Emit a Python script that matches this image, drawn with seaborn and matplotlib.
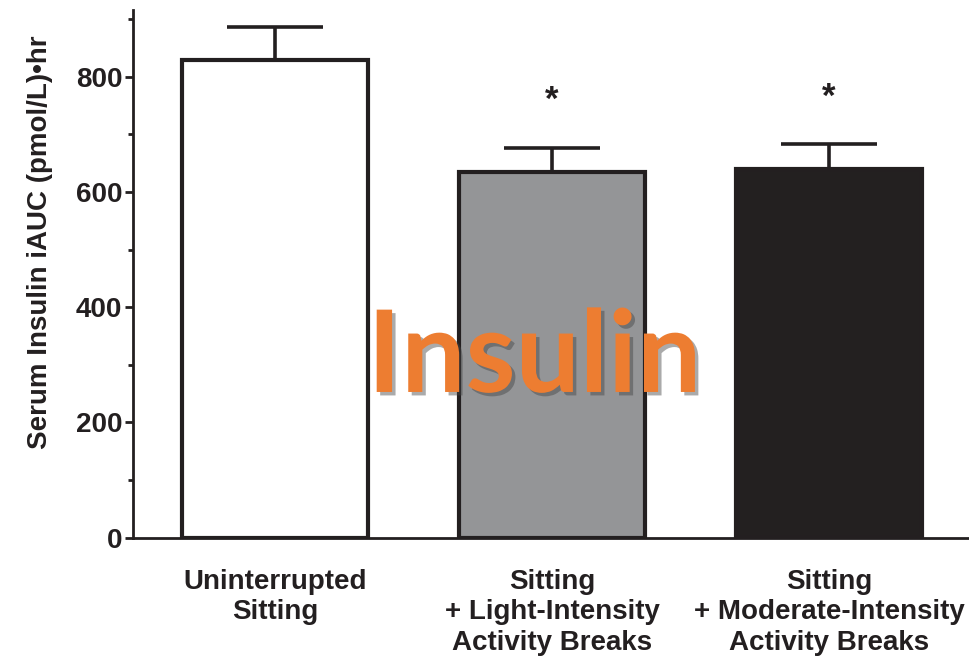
import matplotlib
matplotlib.use("Agg")
import matplotlib.pyplot as plt
import matplotlib.patheffects as pe
from matplotlib.ticker import MultipleLocator
import seaborn as sns
import pandas as pd

categories = ["Uninterrupted\nSitting",
              "Sitting\n+ Light-Intensity\nActivity Breaks",
              "Sitting\n+ Moderate-Intensity\nActivity Breaks"]
values = [829, 635, 640]
errors = [57, 42, 43]
significant = [False, True, True]
bar_colors = ["#ffffff", "#939598", "#231f20"]
y_ticks = [0, 200, 400, 600, 800]
y_label = "Serum Insulin iAUC (pmol/L)\u2022hr"
overlay_text = "Insulin"

sns.set_style("ticks")
plt.rcParams['font.family'] = ['Liberation Sans', 'DejaVu Sans']
plt.rcParams['font.weight'] = 'bold'

df = pd.DataFrame({"cat": categories, "val": values})

fig = plt.figure(figsize=(9.7, 6.61), dpi=100)
ax = fig.add_axes([0.137, 0.1865, 0.862, 0.7985])

sns.barplot(data=df, x="cat", y="val", hue="cat", palette=bar_colors,
            legend=False, width=0.67, edgecolor="#231f20", linewidth=3.0,
            ax=ax, zorder=3)

ax.errorbar(range(len(values)), values, yerr=[[0] * len(errors), errors],
            fmt="none", ecolor="#231f20", elinewidth=2.6, capsize=34.5,
            capthick=2.6, zorder=2)

for i, (v, e, s) in enumerate(zip(values, errors, significant)):
    if s:
        ax.text(i, v + e + 82, "*", ha="center", va="center",
                fontsize=25, fontweight="bold", color="#231f20")

ax.set_xlim(-0.513, 2.505)
ax.set_ylim(0, 916)
ax.set_yticks(y_ticks)
ax.yaxis.set_minor_locator(MultipleLocator(100))
ax.tick_params(axis="y", which="major", length=6, width=2, labelsize=20,
               color="#231f20", labelcolor="#231f20", pad=1.5)
ax.tick_params(axis="y", which="minor", length=3.5, width=2, color="#231f20")
ax.tick_params(axis="x", length=0, labelsize=20, pad=22.5, labelcolor="#231f20")
for lab in ax.get_xticklabels() + ax.get_yticklabels():
    lab.set_fontweight("bold")
for lab in ax.get_xticklabels():
    lab.set_linespacing(1.22)

ax.set_xlabel("")
ax.set_ylabel(y_label, fontsize=20, fontweight="bold", color="#231f20")
ax.yaxis.label.set_va("center")
ax.yaxis.set_label_coords(-0.111, 0.56)

sns.despine(ax=ax)
for sp in ["left", "bottom"]:
    ax.spines[sp].set_linewidth(2)
    ax.spines[sp].set_color("#231f20")

fig.text(0.551, 0.407, overlay_text, ha="center", va="baseline",
         fontsize=82, fontweight="bold", color="#ED7D31",
         family=["Lato", "DejaVu Sans"], zorder=10,
         path_effects=[pe.withSimplePatchShadow(offset=(2.5, -2.5), shadow_rgbFace="#444444", alpha=0.45)])

fig.savefig("out.png", dpi=100)
